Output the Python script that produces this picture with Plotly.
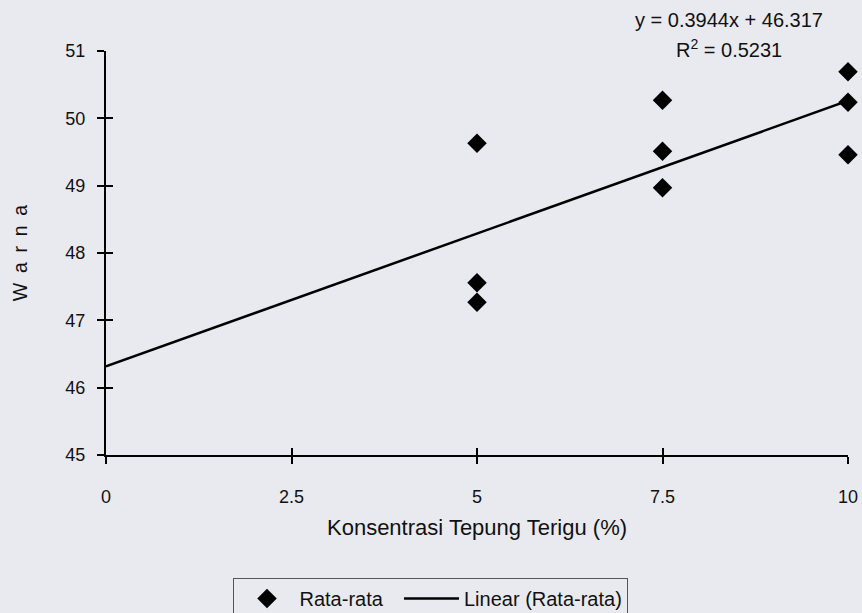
import plotly.graph_objects as go

# Data
konsentrasi = [5, 5, 5, 7.5, 7.5, 7.5, 10, 10, 10]
warna = [49.63, 47.56, 47.27, 50.27, 49.51, 48.97, 50.69, 50.24, 49.46]

# Trendline equation shown on the chart
slope = 0.3944
intercept = 46.317
r_squared = 0.5231
trend_x = [0, 10]
trend_y = [intercept + slope * x for x in trend_x]

x_ticks = [0, 2.5, 5, 7.5, 10]
x_tick_labels = ["0", "2.5", "5", "7.5", "10"]
y_ticks = [45, 46, 47, 48, 49, 50, 51]

bg = "#e9eaf0"
font = dict(family="Liberation Sans, Arial, sans-serif", size=18, color="#111111")

fig = go.Figure()
fig.add_trace(go.Scatter(
    x=konsentrasi, y=warna, mode="markers", name="Rata-rata\u00a0\u00a0",
    marker=dict(symbol="diamond", size=15, color="black"),
    cliponaxis=False,
))
fig.add_trace(go.Scatter(
    x=trend_x, y=trend_y, mode="lines", name="Linear (Rata-rata)",
    line=dict(color="black", width=2.5),
    cliponaxis=False,
))

axis_common = dict(showgrid=False, zeroline=False, showline=True, automargin=False,
                   linecolor="black", linewidth=2, ticks="outside",
                   ticklen=7, tickwidth=1.5, tickcolor="black")

fig.update_layout(
    width=862, height=613,
    paper_bgcolor=bg, plot_bgcolor=bg,
    font=font,
    margin=dict(l=106, r=14, t=51, b=158, autoexpand=False),
    showlegend=True,
    legend=dict(orientation="h", x=0.438, xanchor="center", y=-0.3045, yanchor="top",
                bgcolor=bg, bordercolor="#555555", borderwidth=1,
                font=dict(size=20), itemwidth=55),
    xaxis=dict(range=[0, 10], tickvals=x_ticks, ticktext=x_tick_labels,
               ticklabelstandoff=17,
               title=dict(text="Konsentrasi Tepung Terigu (%)", standoff=14,
                          font=dict(size=22)),
               **axis_common),
    yaxis=dict(range=[45, 51], tickvals=y_ticks, ticklabelstandoff=8,
               title=dict(text="W\u2002a\u2002r\u2002n\u2002a", standoff=33, font=dict(size=19.5)),
               **axis_common),
    xaxis2=dict(range=[0, 10], overlaying="x", tickvals=x_ticks, showticklabels=False,
                ticks="inside", ticklen=7, tickwidth=1.5, tickcolor="black",
                showgrid=False, zeroline=False, showline=False, anchor="y"),
    yaxis2=dict(range=[45, 51], overlaying="y", tickvals=y_ticks, showticklabels=False,
                ticks="inside", ticklen=7, tickwidth=1.5, tickcolor="black",
                showgrid=False, zeroline=False, showline=False, anchor="x", side="left"),
    annotations=[
        dict(text=f"y = {slope}x + {intercept}",
             xref="paper", yref="paper", x=0.84, y=1.077, xanchor="center", yanchor="middle",
             showarrow=False, font=dict(size=20)),
        dict(text=f"R<sup>2</sup> = {r_squared}",
             xref="paper", yref="paper", x=0.84, y=1.005, xanchor="center", yanchor="middle",
             showarrow=False, font=dict(size=20)),
    ],
)
# invisible trace to activate the overlay axes that give crossing ticks
fig.add_trace(go.Scatter(x=[0], y=[45], xaxis="x2", yaxis="y2", mode="markers",
                         marker=dict(opacity=0), showlegend=False, hoverinfo="skip"))

fig.write_html("out.html", config={"displayModeBar": False},
               post_script="document.body.style.margin='0';document.body.style.background='%s';" % bg)
